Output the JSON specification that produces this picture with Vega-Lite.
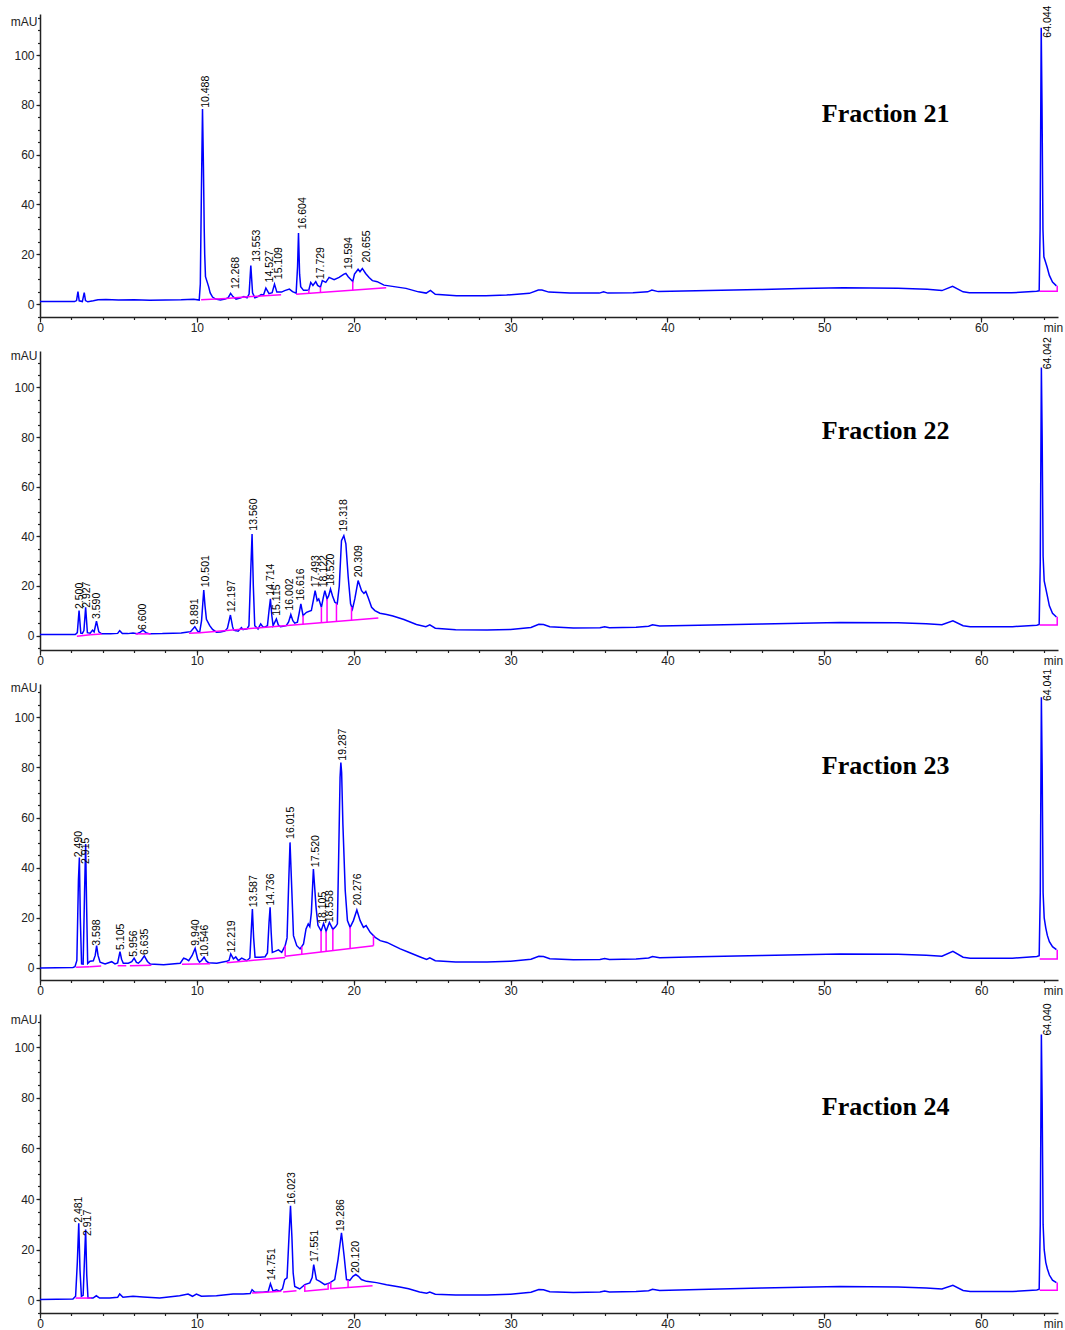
{
"$schema": "https://vega.github.io/schema/vega-lite/v6.json",
"background": "white",
"padding": {"left": 10, "top": 5, "right": 3, "bottom": 3},
"bounds": "flush",
"spacing": 34,
"config": {
  "view": {"stroke": null},
  "axis": {"labelFont": "Liberation Sans", "labelFontSize": 12, "labelColor": "#222", "labelFlush": false,
           "titleFont": "Liberation Sans", "titleFontSize": 12, "titleFontWeight": "normal", "titleColor": "#222",
           "domainColor": "#222", "tickColor": "#222", "domainWidth": 1.5, "tickWidth": 1.2, "grid": false}
},
"datasets": {
"tr": [
{"f":21,"t":0,"y":1.0},{"f":21,"t":2.2,"y":1.0},{"f":21,"t":2.33,"y":1.4},{"f":21,"t":2.42,"y":5.0},{"f":21,"t":2.5,"y":1.3},{"f":21,"t":2.7,"y":1.0},{"f":21,"t":2.82,"y":4.6},{"f":21,"t":2.9,"y":1.4},{"f":21,"t":3.05,"y":0.9},{"f":21,"t":3.4,"y":1.3},{"f":21,"t":3.7,"y":1.7},{"f":21,"t":4.2,"y":1.8},{"f":21,"t":5,"y":1.6},{"f":21,"t":6,"y":1.7},{"f":21,"t":7,"y":1.5},{"f":21,"t":8,"y":1.6},{"f":21,"t":9,"y":1.7},{"f":21,"t":9.8,"y":1.9},{"f":21,"t":10.15,"y":1.6},
{"f":21,"t":10.22,"y":8},{"f":21,"t":10.29,"y":45},{"f":21,"t":10.36,"y":78.3},{"f":21,"t":10.42,"y":55},{"f":21,"t":10.47,"y":30},{"f":21,"t":10.5,"y":20},{"f":21,"t":10.55,"y":11},{"f":21,"t":10.65,"y":9},{"f":21,"t":10.75,"y":7},{"f":21,"t":10.85,"y":4.5},{"f":21,"t":11.0,"y":2.8},{"f":21,"t":11.2,"y":2.0},{"f":21,"t":11.5,"y":1.6},{"f":21,"t":11.8,"y":2.0},{"f":21,"t":12.0,"y":2.6},{"f":21,"t":12.15,"y":4.3},{"f":21,"t":12.3,"y":3.0},{"f":21,"t":12.5,"y":2.0},{"f":21,"t":12.8,"y":2.5},{"f":21,"t":13.0,"y":3.0},{"f":21,"t":13.2,"y":2.5},{"f":21,"t":13.33,"y":4},{"f":21,"t":13.44,"y":15.5},{"f":21,"t":13.55,"y":4.5},{"f":21,"t":13.7,"y":2.5},{"f":21,"t":13.9,"y":3.0},{"f":21,"t":14.1,"y":3.8},{"f":21,"t":14.25,"y":3.6},{"f":21,"t":14.4,"y":6.4},{"f":21,"t":14.6,"y":4.2},{"f":21,"t":14.8,"y":4.6},{"f":21,"t":14.95,"y":8.0},{"f":21,"t":15.1,"y":4.8},{"f":21,"t":15.4,"y":4.8},{"f":21,"t":15.6,"y":5.4},{"f":21,"t":15.9,"y":6.0},{"f":21,"t":16.1,"y":5.0},{"f":21,"t":16.33,"y":4.4},{"f":21,"t":16.42,"y":15},{"f":21,"t":16.48,"y":28.5},{"f":21,"t":16.55,"y":12},{"f":21,"t":16.62,"y":7},{"f":21,"t":16.8,"y":5.5},{"f":21,"t":17.0,"y":5.5},{"f":21,"t":17.14,"y":5.7},{"f":21,"t":17.26,"y":8.7},{"f":21,"t":17.4,"y":7.5},{"f":21,"t":17.58,"y":9.0},{"f":21,"t":17.7,"y":7.5},{"f":21,"t":17.88,"y":6.8},{"f":21,"t":18.0,"y":9.4},{"f":21,"t":18.22,"y":8.7},{"f":21,"t":18.43,"y":10.7},{"f":21,"t":18.75,"y":9.8},{"f":21,"t":19.07,"y":10.7},{"f":21,"t":19.38,"y":12.0},{"f":21,"t":19.5,"y":12.3},{"f":21,"t":19.65,"y":11},{"f":21,"t":19.94,"y":9.1},{"f":21,"t":20.05,"y":12},{"f":21,"t":20.28,"y":14},{"f":21,"t":20.4,"y":13},{"f":21,"t":20.55,"y":14.3},{"f":21,"t":20.76,"y":12.3},{"f":21,"t":20.98,"y":10.7},{"f":21,"t":21.19,"y":9.4},{"f":21,"t":21.5,"y":9.0},{"f":21,"t":21.93,"y":7.6},{"f":21,"t":22.36,"y":7.2},{"f":21,"t":23.0,"y":6.6},{"f":21,"t":23.33,"y":6.3},{"f":21,"t":24.13,"y":4.9},{"f":21,"t":24.62,"y":4.4},{"f":21,"t":24.89,"y":5.5},{"f":21,"t":25.2,"y":3.9},{"f":21,"t":26.55,"y":3.3},{"f":21,"t":28.42,"y":3.3},{"f":21,"t":29.75,"y":3.6},{"f":21,"t":31.2,"y":4.3},{"f":21,"t":31.77,"y":5.6},{"f":21,"t":32.0,"y":5.6},{"f":21,"t":32.44,"y":4.8},{"f":21,"t":33.78,"y":4.4},{"f":21,"t":35.66,"y":4.4},{"f":21,"t":35.93,"y":4.9},{"f":21,"t":36.2,"y":4.4},{"f":21,"t":37.8,"y":4.5},{"f":21,"t":38.74,"y":4.9},{"f":21,"t":39.01,"y":5.6},{"f":21,"t":39.41,"y":5.0},{"f":21,"t":41.83,"y":5.3},{"f":21,"t":45.85,"y":5.8},{"f":21,"t":48.5,"y":6.2},{"f":21,"t":51.2,"y":6.5},{"f":21,"t":54.7,"y":6.3},{"f":21,"t":56.56,"y":5.9},{"f":21,"t":57.5,"y":5.4},{"f":21,"t":58.18,"y":7.1},{"f":21,"t":58.85,"y":4.9},{"f":21,"t":59.25,"y":4.5},{"f":21,"t":61.93,"y":4.5},{"f":21,"t":63.54,"y":5.1},{"f":21,"t":63.7,"y":5.3},{"f":21,"t":63.76,"y":30},{"f":21,"t":63.83,"y":111},{"f":21,"t":63.88,"y":80},{"f":21,"t":63.94,"y":30},{"f":21,"t":64.0,"y":19},{"f":21,"t":64.1,"y":17},{"f":21,"t":64.2,"y":15},{"f":21,"t":64.35,"y":11.5},{"f":21,"t":64.55,"y":8.8},{"f":21,"t":64.8,"y":7.3},

{"f":22,"t":0,"y":0.4},{"f":22,"t":2.25,"y":0.4},{"f":22,"t":2.38,"y":1.2},{"f":22,"t":2.49,"y":10.1},{"f":22,"t":2.6,"y":1.0},{"f":22,"t":2.7,"y":0.9},{"f":22,"t":2.8,"y":2},{"f":22,"t":2.91,"y":11.4},{"f":22,"t":3.02,"y":1.2},{"f":22,"t":3.2,"y":1.0},{"f":22,"t":3.35,"y":2.2},{"f":22,"t":3.45,"y":1.5},{"f":22,"t":3.6,"y":5.8},{"f":22,"t":3.75,"y":1.5},{"f":22,"t":3.93,"y":0.7},{"f":22,"t":4.5,"y":0.7},{"f":22,"t":4.95,"y":0.9},{"f":22,"t":5.08,"y":2.0},{"f":22,"t":5.25,"y":0.8},{"f":22,"t":5.6,"y":0.8},{"f":22,"t":5.93,"y":1.0},{"f":22,"t":6.2,"y":0.8},{"f":22,"t":6.4,"y":1.4},{"f":22,"t":6.57,"y":2.2},{"f":22,"t":6.75,"y":1.2},{"f":22,"t":6.99,"y":0.7},{"f":22,"t":7.8,"y":0.8},{"f":22,"t":8.48,"y":1.0},{"f":22,"t":9.0,"y":1.1},{"f":22,"t":9.33,"y":1.4},{"f":22,"t":9.6,"y":1.6},{"f":22,"t":9.87,"y":3.6},{"f":22,"t":10.05,"y":1.8},{"f":22,"t":10.18,"y":1.4},{"f":22,"t":10.3,"y":6},{"f":22,"t":10.44,"y":18.4},{"f":22,"t":10.52,"y":12},{"f":22,"t":10.61,"y":6.6},{"f":22,"t":10.82,"y":4},{"f":22,"t":11.0,"y":2.5},{"f":22,"t":11.25,"y":1.4},{"f":22,"t":11.5,"y":1.5},{"f":22,"t":11.78,"y":1.8},{"f":22,"t":11.95,"y":3},{"f":22,"t":12.14,"y":8.3},{"f":22,"t":12.28,"y":3.5},{"f":22,"t":12.35,"y":2.2},{"f":22,"t":12.5,"y":2.0},{"f":22,"t":12.63,"y":1.8},{"f":22,"t":12.84,"y":3.2},{"f":22,"t":12.95,"y":2.4},{"f":22,"t":13.05,"y":2.6},{"f":22,"t":13.2,"y":2.7},{"f":22,"t":13.32,"y":4},{"f":22,"t":13.43,"y":25},{"f":22,"t":13.52,"y":40.9},{"f":22,"t":13.6,"y":20},{"f":22,"t":13.69,"y":4.0},{"f":22,"t":13.9,"y":2.7},{"f":22,"t":14.07,"y":4.7},{"f":22,"t":14.2,"y":3.6},{"f":22,"t":14.33,"y":3.4},{"f":22,"t":14.5,"y":4},{"f":22,"t":14.6,"y":10},{"f":22,"t":14.69,"y":14.8},{"f":22,"t":14.78,"y":8},{"f":22,"t":14.86,"y":4.0},{"f":22,"t":15.07,"y":6.7},{"f":22,"t":15.2,"y":4.2},{"f":22,"t":15.33,"y":3.6},{"f":22,"t":15.5,"y":3.8},{"f":22,"t":15.7,"y":4.0},{"f":22,"t":15.85,"y":5.5},{"f":22,"t":15.99,"y":8.5},{"f":22,"t":16.12,"y":6},{"f":22,"t":16.24,"y":5.0},{"f":22,"t":16.41,"y":5.4},{"f":22,"t":16.52,"y":9},{"f":22,"t":16.63,"y":12.8},{"f":22,"t":16.77,"y":8.1},{"f":22,"t":16.99,"y":9.4},{"f":22,"t":17.3,"y":10.1},{"f":22,"t":17.42,"y":14},{"f":22,"t":17.54,"y":18.1},{"f":22,"t":17.67,"y":14.1},{"f":22,"t":17.77,"y":14.8},{"f":22,"t":17.94,"y":11.4},{"f":22,"t":18.05,"y":15},{"f":22,"t":18.16,"y":18.1},{"f":22,"t":18.3,"y":14.8},{"f":22,"t":18.4,"y":16},{"f":22,"t":18.52,"y":18.8},{"f":22,"t":18.65,"y":16},{"f":22,"t":18.8,"y":13.4},{"f":22,"t":18.95,"y":12.8},{"f":22,"t":19.08,"y":20},{"f":22,"t":19.22,"y":38.3},{"f":22,"t":19.37,"y":40.3},{"f":22,"t":19.5,"y":37},{"f":22,"t":19.65,"y":23.5},{"f":22,"t":19.8,"y":12.8},{"f":22,"t":19.92,"y":10.7},{"f":22,"t":20.07,"y":14.8},{"f":22,"t":20.28,"y":22.2},{"f":22,"t":20.5,"y":18.1},{"f":22,"t":20.65,"y":17.0},{"f":22,"t":20.77,"y":17.8},{"f":22,"t":20.92,"y":15.4},{"f":22,"t":21.14,"y":11.4},{"f":22,"t":21.35,"y":10.1},{"f":22,"t":21.67,"y":9.0},{"f":22,"t":22.1,"y":8.5},{"f":22,"t":22.5,"y":7.9},{"f":22,"t":23.2,"y":6.5},{"f":22,"t":24.0,"y":4.5},{"f":22,"t":24.6,"y":3.6},{"f":22,"t":24.85,"y":4.3},{"f":22,"t":25.2,"y":3.0},{"f":22,"t":26.5,"y":2.4},{"f":22,"t":28.5,"y":2.3},{"f":22,"t":30,"y":2.5},{"f":22,"t":31.3,"y":3.3},{"f":22,"t":31.8,"y":4.6},{"f":22,"t":32.1,"y":4.5},{"f":22,"t":32.5,"y":3.6},{"f":22,"t":34,"y":3.1},{"f":22,"t":35.7,"y":3.2},{"f":22,"t":36.0,"y":3.6},{"f":22,"t":36.3,"y":3.2},{"f":22,"t":38,"y":3.4},{"f":22,"t":38.8,"y":3.8},{"f":22,"t":39.05,"y":4.4},{"f":22,"t":39.5,"y":3.9},{"f":22,"t":42,"y":4.2},{"f":22,"t":46,"y":4.7},{"f":22,"t":48.5,"y":5.0},{"f":22,"t":51,"y":5.3},{"f":22,"t":54.7,"y":5.2},{"f":22,"t":56.5,"y":4.8},{"f":22,"t":57.5,"y":4.4},{"f":22,"t":58.2,"y":6.0},{"f":22,"t":58.85,"y":4.0},{"f":22,"t":59.3,"y":3.6},{"f":22,"t":62,"y":3.6},{"f":22,"t":63.55,"y":4.2},{"f":22,"t":63.7,"y":4.5},{"f":22,"t":63.77,"y":30},{"f":22,"t":63.84,"y":108},{"f":22,"t":63.89,"y":80},{"f":22,"t":63.95,"y":32},{"f":22,"t":64.02,"y":22},{"f":22,"t":64.12,"y":19},{"f":22,"t":64.22,"y":16},{"f":22,"t":64.35,"y":12},{"f":22,"t":64.55,"y":9},{"f":22,"t":64.8,"y":7.5},

{"f":23,"t":0,"y":0},{"f":23,"t":2.1,"y":0.2},{"f":23,"t":2.23,"y":0.5},{"f":23,"t":2.35,"y":3},{"f":23,"t":2.45,"y":35},{"f":23,"t":2.51,"y":44.1},{"f":23,"t":2.57,"y":20},{"f":23,"t":2.65,"y":1.6},{"f":23,"t":2.75,"y":1.5},{"f":23,"t":2.84,"y":30},{"f":23,"t":2.91,"y":49.5},{"f":23,"t":2.97,"y":25},{"f":23,"t":3.04,"y":1.8},{"f":23,"t":3.19,"y":2.7},{"f":23,"t":3.4,"y":2.9},{"f":23,"t":3.52,"y":5},{"f":23,"t":3.61,"y":8.9},{"f":23,"t":3.7,"y":5},{"f":23,"t":3.83,"y":2.3},{"f":23,"t":4.15,"y":1.6},{"f":23,"t":4.57,"y":2.5},{"f":23,"t":4.78,"y":1.6},{"f":23,"t":4.95,"y":2},{"f":23,"t":5.1,"y":6.5},{"f":23,"t":5.2,"y":3.5},{"f":23,"t":5.31,"y":1.9},{"f":23,"t":5.63,"y":1.9},{"f":23,"t":5.85,"y":2.5},{"f":23,"t":6.0,"y":3.9},{"f":23,"t":6.15,"y":2.2},{"f":23,"t":6.27,"y":1.9},{"f":23,"t":6.45,"y":3},{"f":23,"t":6.65,"y":4.8},{"f":23,"t":6.85,"y":2.6},{"f":23,"t":7.03,"y":1.6},{"f":23,"t":7.88,"y":1.3},{"f":23,"t":8.94,"y":1.9},{"f":23,"t":9.16,"y":3.9},{"f":23,"t":9.3,"y":3.6},{"f":23,"t":9.48,"y":2.9},{"f":23,"t":9.7,"y":5},{"f":23,"t":9.89,"y":7.8},{"f":23,"t":10.05,"y":3.5},{"f":23,"t":10.17,"y":2.3},{"f":23,"t":10.3,"y":3},{"f":23,"t":10.46,"y":4.3},{"f":23,"t":10.6,"y":2.8},{"f":23,"t":10.74,"y":2.1},{"f":23,"t":11.27,"y":1.9},{"f":23,"t":11.9,"y":2.7},{"f":23,"t":12.05,"y":3},{"f":23,"t":12.16,"y":5.6},{"f":23,"t":12.33,"y":3.6},{"f":23,"t":12.48,"y":4.4},{"f":23,"t":12.65,"y":2.9},{"f":23,"t":12.86,"y":3.9},{"f":23,"t":13.18,"y":2.9},{"f":23,"t":13.38,"y":4},{"f":23,"t":13.47,"y":15},{"f":23,"t":13.54,"y":23.5},{"f":23,"t":13.62,"y":12},{"f":23,"t":13.71,"y":4.3},{"f":23,"t":14.03,"y":4.3},{"f":23,"t":14.35,"y":4.5},{"f":23,"t":14.5,"y":6},{"f":23,"t":14.6,"y":18},{"f":23,"t":14.67,"y":24.2},{"f":23,"t":14.74,"y":14},{"f":23,"t":14.81,"y":6.2},{"f":23,"t":14.98,"y":6.6},{"f":23,"t":15.2,"y":7.2},{"f":23,"t":15.41,"y":6.2},{"f":23,"t":15.63,"y":8.9},{"f":23,"t":15.75,"y":12},{"f":23,"t":15.86,"y":35},{"f":23,"t":15.94,"y":50.1},{"f":23,"t":16.03,"y":35},{"f":23,"t":16.16,"y":12.9},{"f":23,"t":16.37,"y":8.9},{"f":23,"t":16.58,"y":7.6},{"f":23,"t":16.8,"y":9.6},{"f":23,"t":16.96,"y":15.6},{"f":23,"t":17.1,"y":17.6},{"f":23,"t":17.2,"y":16.5},{"f":23,"t":17.3,"y":22},{"f":23,"t":17.43,"y":39.5},{"f":23,"t":17.6,"y":24.2},{"f":23,"t":17.72,"y":17},{"f":23,"t":17.92,"y":14.8},{"f":23,"t":18.08,"y":17.8},{"f":23,"t":18.24,"y":14.6},{"f":23,"t":18.45,"y":18.2},{"f":23,"t":18.67,"y":15.4},{"f":23,"t":18.85,"y":16.5},{"f":23,"t":18.96,"y":17.6},{"f":23,"t":19.04,"y":44.2},{"f":23,"t":19.13,"y":76},{"f":23,"t":19.18,"y":82.0},{"f":23,"t":19.23,"y":78},{"f":23,"t":19.31,"y":57.4},{"f":23,"t":19.46,"y":30.8},{"f":23,"t":19.6,"y":18.9},{"f":23,"t":19.77,"y":16.2},{"f":23,"t":19.98,"y":18.9},{"f":23,"t":20.2,"y":23.1},{"f":23,"t":20.41,"y":18.9},{"f":23,"t":20.62,"y":16.2},{"f":23,"t":20.79,"y":16.9},{"f":23,"t":21.05,"y":14.2},{"f":23,"t":21.37,"y":12.2},{"f":23,"t":21.69,"y":10.9},{"f":23,"t":22.12,"y":10.2},{"f":23,"t":22.54,"y":8.9},{"f":23,"t":22.97,"y":7.6},{"f":23,"t":23.5,"y":6.3},{"f":23,"t":24.2,"y":4.5},{"f":23,"t":24.65,"y":3.4},{"f":23,"t":24.85,"y":4.0},{"f":23,"t":25.2,"y":2.9},{"f":23,"t":26.5,"y":2.4},{"f":23,"t":28.5,"y":2.4},{"f":23,"t":30,"y":2.7},{"f":23,"t":31.3,"y":3.5},{"f":23,"t":31.8,"y":4.7},{"f":23,"t":32.1,"y":4.6},{"f":23,"t":32.5,"y":3.7},{"f":23,"t":34,"y":3.3},{"f":23,"t":35.7,"y":3.4},{"f":23,"t":36.0,"y":3.8},{"f":23,"t":36.3,"y":3.4},{"f":23,"t":38,"y":3.6},{"f":23,"t":38.8,"y":4.0},{"f":23,"t":39.05,"y":4.6},{"f":23,"t":39.5,"y":4.1},{"f":23,"t":42,"y":4.5},{"f":23,"t":46,"y":5.0},{"f":23,"t":48.5,"y":5.3},{"f":23,"t":51,"y":5.6},{"f":23,"t":54.7,"y":5.5},{"f":23,"t":56.5,"y":5.1},{"f":23,"t":57.5,"y":4.7},{"f":23,"t":58.2,"y":6.6},{"f":23,"t":58.85,"y":4.3},{"f":23,"t":59.3,"y":3.9},{"f":23,"t":62,"y":3.9},{"f":23,"t":63.55,"y":4.6},{"f":23,"t":63.7,"y":4.9},{"f":23,"t":63.77,"y":30},{"f":23,"t":63.84,"y":108},{"f":23,"t":63.89,"y":80},{"f":23,"t":63.95,"y":30},{"f":23,"t":64.02,"y":20},{"f":23,"t":64.12,"y":16},{"f":23,"t":64.22,"y":13},{"f":23,"t":64.35,"y":10.5},{"f":23,"t":64.55,"y":8.5},{"f":23,"t":64.8,"y":7.3},

{"f":24,"t":0,"y":0.3},{"f":24,"t":2.1,"y":0.5},{"f":24,"t":2.27,"y":1.6},{"f":24,"t":2.38,"y":15},{"f":24,"t":2.47,"y":30.4},{"f":24,"t":2.55,"y":12},{"f":24,"t":2.64,"y":1.6},{"f":24,"t":2.75,"y":2},{"f":24,"t":2.83,"y":15},{"f":24,"t":2.91,"y":28},{"f":24,"t":2.98,"y":10},{"f":24,"t":3.06,"y":0.9},{"f":24,"t":3.38,"y":0.9},{"f":24,"t":3.59,"y":1.8},{"f":24,"t":3.8,"y":0.9},{"f":24,"t":4.44,"y":0.9},{"f":24,"t":4.95,"y":1.2},{"f":24,"t":5.08,"y":2.5},{"f":24,"t":5.29,"y":1.2},{"f":24,"t":5.93,"y":1.6},{"f":24,"t":6.57,"y":1.3},{"f":24,"t":7.63,"y":0.9},{"f":24,"t":8.9,"y":1.8},{"f":24,"t":9.44,"y":2.5},{"f":24,"t":9.72,"y":1.6},{"f":24,"t":9.97,"y":2.5},{"f":24,"t":10.29,"y":1.6},{"f":24,"t":11.25,"y":1.8},{"f":24,"t":12.31,"y":2.5},{"f":24,"t":12.95,"y":2.5},{"f":24,"t":13.4,"y":2.7},{"f":24,"t":13.52,"y":4.2},{"f":24,"t":13.69,"y":3.2},{"f":24,"t":14.22,"y":3.2},{"f":24,"t":14.55,"y":3.5},{"f":24,"t":14.69,"y":6.6},{"f":24,"t":14.86,"y":3.6},{"f":24,"t":15.07,"y":4.2},{"f":24,"t":15.28,"y":3.6},{"f":24,"t":15.46,"y":4.5},{"f":24,"t":15.6,"y":8.2},{"f":24,"t":15.75,"y":8.9},{"f":24,"t":15.85,"y":22},{"f":24,"t":15.97,"y":37.3},{"f":24,"t":16.06,"y":25},{"f":24,"t":16.14,"y":10.8},{"f":24,"t":16.24,"y":5.5},{"f":24,"t":16.56,"y":4.5},{"f":24,"t":16.88,"y":6.2},{"f":24,"t":17.2,"y":6.9},{"f":24,"t":17.35,"y":9},{"f":24,"t":17.45,"y":14.1},{"f":24,"t":17.62,"y":8.2},{"f":24,"t":17.84,"y":7.5},{"f":24,"t":18.15,"y":6.2},{"f":24,"t":18.47,"y":6.9},{"f":24,"t":18.79,"y":8.2},{"f":24,"t":19.0,"y":16.1},{"f":24,"t":19.22,"y":26.7},{"f":24,"t":19.39,"y":17.4},{"f":24,"t":19.54,"y":8.2},{"f":24,"t":19.75,"y":7.9},{"f":24,"t":19.95,"y":9.5},{"f":24,"t":20.13,"y":10.2},{"f":24,"t":20.3,"y":9.5},{"f":24,"t":20.49,"y":8.2},{"f":24,"t":20.81,"y":7.5},{"f":24,"t":21.45,"y":7.0},{"f":24,"t":22.09,"y":6.2},{"f":24,"t":22.94,"y":5.3},{"f":24,"t":23.5,"y":4.6},{"f":24,"t":24.2,"y":3.3},{"f":24,"t":24.65,"y":2.8},{"f":24,"t":24.85,"y":3.3},{"f":24,"t":25.2,"y":2.4},{"f":24,"t":26.5,"y":2.1},{"f":24,"t":28.5,"y":2.1},{"f":24,"t":30,"y":2.4},{"f":24,"t":31.3,"y":3.2},{"f":24,"t":31.8,"y":4.3},{"f":24,"t":32.1,"y":4.2},{"f":24,"t":32.5,"y":3.4},{"f":24,"t":34,"y":3.1},{"f":24,"t":35.7,"y":3.3},{"f":24,"t":36.0,"y":3.7},{"f":24,"t":36.3,"y":3.3},{"f":24,"t":38,"y":3.5},{"f":24,"t":38.8,"y":3.8},{"f":24,"t":39.05,"y":4.4},{"f":24,"t":39.5,"y":3.9},{"f":24,"t":42,"y":4.3},{"f":24,"t":46,"y":4.9},{"f":24,"t":48.5,"y":5.2},{"f":24,"t":51,"y":5.5},{"f":24,"t":54.7,"y":5.3},{"f":24,"t":56.5,"y":4.9},{"f":24,"t":57.5,"y":4.5},{"f":24,"t":58.2,"y":5.9},{"f":24,"t":58.85,"y":3.9},{"f":24,"t":59.3,"y":3.5},{"f":24,"t":62,"y":3.5},{"f":24,"t":63.55,"y":4.1},{"f":24,"t":63.7,"y":4.4},{"f":24,"t":63.77,"y":30},{"f":24,"t":63.84,"y":105},{"f":24,"t":63.89,"y":78},{"f":24,"t":63.95,"y":30},{"f":24,"t":64.02,"y":20},{"f":24,"t":64.12,"y":15},{"f":24,"t":64.22,"y":12.5},{"f":24,"t":64.35,"y":10},{"f":24,"t":64.55,"y":8},{"f":24,"t":64.8,"y":7}
],
"bs": [
{"f":21,"g":1,"o":1,"t":10.27,"y":1.7},{"f":21,"g":1,"o":2,"t":11.86,"y":2.25},
{"f":21,"g":2,"o":1,"t":11.86,"y":2.25},{"f":21,"g":2,"o":2,"t":13.25,"y":2.9},
{"f":21,"g":3,"o":1,"t":13.25,"y":2.9},{"f":21,"g":3,"o":2,"t":14.09,"y":3.2},
{"f":21,"g":4,"o":1,"t":14.09,"y":3.2},{"f":21,"g":4,"o":2,"t":15.37,"y":3.7},
{"f":21,"g":5,"o":1,"t":16.33,"y":3.9},{"f":21,"g":5,"o":2,"t":22.07,"y":6.5},
{"f":21,"g":6,"o":1,"t":17.14,"y":4.27},{"f":21,"g":6,"o":2,"t":17.14,"y":5.7},
{"f":21,"g":7,"o":1,"t":17.88,"y":4.6},{"f":21,"g":7,"o":2,"t":17.88,"y":6.8},
{"f":21,"g":8,"o":1,"t":19.94,"y":5.54},{"f":21,"g":8,"o":2,"t":19.94,"y":9.1},
{"f":21,"g":9,"o":1,"t":63.73,"y":5.1},{"f":21,"g":9,"o":2,"t":64.85,"y":5.1},{"f":21,"g":9,"o":3,"t":64.85,"y":7.4},

{"f":22,"g":1,"o":1,"t":2.35,"y":-0.3},{"f":22,"g":1,"o":2,"t":3.2,"y":0.3},
{"f":22,"g":2,"o":1,"t":3.2,"y":0.3},{"f":22,"g":2,"o":2,"t":3.93,"y":0.6},
{"f":22,"g":3,"o":1,"t":6.1,"y":0.7},{"f":22,"g":3,"o":2,"t":7.06,"y":0.7},
{"f":22,"g":4,"o":1,"t":9.5,"y":1.0},{"f":22,"g":4,"o":2,"t":10.2,"y":1.2},
{"f":22,"g":5,"o":1,"t":10.2,"y":1.2},{"f":22,"g":5,"o":2,"t":21.57,"y":7.1},
{"f":22,"g":6,"o":1,"t":16.77,"y":4.61},{"f":22,"g":6,"o":2,"t":16.77,"y":8.1},
{"f":22,"g":7,"o":1,"t":17.94,"y":5.22},{"f":22,"g":7,"o":2,"t":17.94,"y":11.4},
{"f":22,"g":8,"o":1,"t":18.3,"y":5.4},{"f":22,"g":8,"o":2,"t":18.3,"y":14.8},
{"f":22,"g":9,"o":1,"t":18.9,"y":5.72},{"f":22,"g":9,"o":2,"t":18.9,"y":13.0},
{"f":22,"g":10,"o":1,"t":19.86,"y":6.21},{"f":22,"g":10,"o":2,"t":19.86,"y":11.6},
{"f":22,"g":11,"o":1,"t":63.73,"y":4.3},{"f":22,"g":11,"o":2,"t":64.85,"y":4.3},{"f":22,"g":11,"o":3,"t":64.85,"y":7.6},

{"f":23,"g":1,"o":1,"t":2.3,"y":0.3},{"f":23,"g":1,"o":2,"t":3.17,"y":0.5},
{"f":23,"g":2,"o":1,"t":3.17,"y":0.5},{"f":23,"g":2,"o":2,"t":3.9,"y":0.8},
{"f":23,"g":3,"o":1,"t":4.95,"y":0.9},{"f":23,"g":3,"o":2,"t":5.5,"y":0.9},
{"f":23,"g":4,"o":1,"t":5.73,"y":0.9},{"f":23,"g":4,"o":2,"t":7.1,"y":1.1},
{"f":23,"g":5,"o":1,"t":9.05,"y":1.5},{"f":23,"g":5,"o":2,"t":10.85,"y":1.7},
{"f":23,"g":6,"o":1,"t":11.9,"y":2.1},{"f":23,"g":6,"o":2,"t":13.3,"y":2.9},
{"f":23,"g":7,"o":1,"t":13.3,"y":2.9},{"f":23,"g":7,"o":2,"t":15.63,"y":4.2},
{"f":23,"g":8,"o":1,"t":15.63,"y":4.7},{"f":23,"g":8,"o":2,"t":15.63,"y":8.9},
{"f":23,"g":9,"o":1,"t":15.63,"y":4.7},{"f":23,"g":9,"o":2,"t":21.26,"y":8.9},
{"f":23,"g":10,"o":1,"t":16.69,"y":5.49},{"f":23,"g":10,"o":2,"t":16.69,"y":8.6},
{"f":23,"g":11,"o":1,"t":17.92,"y":6.41},{"f":23,"g":11,"o":2,"t":17.92,"y":14.8},
{"f":23,"g":12,"o":1,"t":18.24,"y":6.65},{"f":23,"g":12,"o":2,"t":18.24,"y":14.6},
{"f":23,"g":13,"o":1,"t":18.67,"y":6.97},{"f":23,"g":13,"o":2,"t":18.67,"y":15.4},
{"f":23,"g":14,"o":1,"t":19.77,"y":7.79},{"f":23,"g":14,"o":2,"t":19.77,"y":16.2},
{"f":23,"g":15,"o":1,"t":21.26,"y":8.9},{"f":23,"g":15,"o":2,"t":21.26,"y":12.9},
{"f":23,"g":16,"o":1,"t":63.73,"y":3.6},{"f":23,"g":16,"o":2,"t":64.85,"y":3.6},{"f":23,"g":16,"o":3,"t":64.85,"y":7.3},

{"f":24,"g":1,"o":1,"t":2.27,"y":0.9},{"f":24,"g":1,"o":2,"t":3.27,"y":0.9},
{"f":24,"g":2,"o":1,"t":13.52,"y":2.9},{"f":24,"g":2,"o":2,"t":15.39,"y":3.6},
{"f":24,"g":3,"o":1,"t":15.5,"y":3.3},{"f":24,"g":3,"o":2,"t":16.35,"y":3.8},
{"f":24,"g":4,"o":1,"t":16.88,"y":6.2},{"f":24,"g":4,"o":2,"t":16.88,"y":3.6},{"f":24,"g":4,"o":3,"t":18.37,"y":4.5},{"f":24,"g":4,"o":4,"t":18.37,"y":6.7},
{"f":24,"g":5,"o":1,"t":18.54,"y":7.1},{"f":24,"g":5,"o":2,"t":18.54,"y":4.6},{"f":24,"g":5,"o":3,"t":21.2,"y":5.8},
{"f":24,"g":6,"o":1,"t":19.64,"y":5.1},{"f":24,"g":6,"o":2,"t":19.64,"y":8.1},
{"f":24,"g":7,"o":1,"t":63.73,"y":4.0},{"f":24,"g":7,"o":2,"t":64.85,"y":4.0},{"f":24,"g":7,"o":3,"t":64.85,"y":7.0}
],
"lb": [
{"f":21,"s":"10.488","t":10.27,"y":78.8},{"f":21,"s":"12.268","t":12.17,"y":6},{"f":21,"s":"13.553","t":13.51,"y":17},{"f":21,"s":"14.527","t":14.33,"y":8.7},{"f":21,"s":"15.109","t":14.89,"y":10},{"f":21,"s":"16.604","t":16.47,"y":30},{"f":21,"s":"17.729","t":17.57,"y":10},{"f":21,"s":"19.594","t":19.36,"y":14},{"f":21,"s":"20.655","t":20.51,"y":16.7},{"f":21,"s":"64.044","t":63.97,"y":107},
{"f":22,"s":"2.500","t":2.21,"y":10.7},{"f":22,"s":"2.927","t":2.66,"y":11.2},{"f":22,"s":"3.590","t":3.33,"y":6.7},{"f":22,"s":"6.600","t":6.25,"y":2.3},{"f":22,"s":"9.891","t":9.57,"y":4.4},{"f":22,"s":"10.501","t":10.26,"y":19.5},{"f":22,"s":"12.197","t":11.91,"y":9.4},{"f":22,"s":"13.560","t":13.32,"y":42.3},{"f":22,"s":"14.714","t":14.41,"y":16.1},{"f":22,"s":"15.115","t":14.8,"y":8},{"f":22,"s":"16.002","t":15.65,"y":10.1},{"f":22,"s":"16.616","t":16.31,"y":14.1},{"f":22,"s":"17.493","t":17.27,"y":19.5},{"f":22,"s":"18.122","t":17.77,"y":19.5},{"f":22,"s":"18.520","t":18.23,"y":20.1},{"f":22,"s":"19.318","t":19.08,"y":42},{"f":22,"s":"20.309","t":19.99,"y":23.5},{"f":22,"s":"64.042","t":63.93,"y":107.3},
{"f":23,"s":"2.490","t":2.16,"y":44.2},{"f":23,"s":"2.915","t":2.6,"y":41.5},{"f":23,"s":"3.598","t":3.32,"y":8.9},{"f":23,"s":"5.105","t":4.82,"y":7.2},{"f":23,"s":"5.956","t":5.66,"y":4.5},{"f":23,"s":"6.635","t":6.36,"y":5.2},{"f":23,"s":"9.940","t":9.62,"y":8.9},{"f":23,"s":"10.546","t":10.22,"y":4.5},{"f":23,"s":"12.219","t":11.89,"y":6.2},{"f":23,"s":"13.587","t":13.31,"y":24.2},{"f":23,"s":"14.736","t":14.38,"y":24.9},{"f":23,"s":"16.015","t":15.7,"y":51.5},{"f":23,"s":"17.520","t":17.25,"y":40.2},{"f":23,"s":"18.105","t":17.71,"y":17.6},{"f":23,"s":"18.558","t":18.16,"y":18.2},{"f":23,"s":"19.287","t":18.97,"y":82.7},{"f":23,"s":"20.276","t":19.93,"y":24.9},{"f":23,"s":"64.041","t":63.93,"y":106.5},
{"f":24,"s":"2.481","t":2.18,"y":30.6},{"f":24,"s":"2.917","t":2.71,"y":25.4},{"f":24,"s":"14.751","t":14.46,"y":7.9},{"f":24,"s":"16.023","t":15.75,"y":37.9},{"f":24,"s":"17.551","t":17.24,"y":15.1},{"f":24,"s":"19.286","t":18.9,"y":27.3},{"f":24,"s":"20.120","t":19.85,"y":10.8},{"f":24,"s":"64.040","t":63.93,"y":104.6}
],
"tt": [
{"f":21,"s":"Fraction 21","t":49.84,"y":73.2},{"f":22,"s":"Fraction 22","t":49.84,"y":79.2},{"f":23,"s":"Fraction 23","t":49.84,"y":77.4},{"f":24,"s":"Fraction 24","t":49.84,"y":73.3}
]
},
"vconcat": [
{"width":1018,"height":303,"resolve":{"axis":{"x":"independent","y":"independent"}},"layer":[
 {"data":{"name":"tr"},"transform":[{"filter":"datum.f==21"}],"mark":{"type":"line","color":"#0000ff","strokeWidth":1.5,"clip":true},
  "encoding":{"x":{"field":"t","type":"quantitative","scale":{"domain":[0,64.9],"nice":false,"zero":false},"axis":{"values":[0,10,20,30,40,50,60],"title":"min","titleX":1013,"titleY":14.5,"titleAlign":"center","titleBaseline":"alphabetic","tickSize":5,"labelPadding":0,"orient":"bottom"}},
   "y":{"field":"y","type":"quantitative","scale":{"domain":[-5.2,116.5],"nice":false,"zero":false},"axis":{"values":[0,20,40,60,80,100],"title":"mAU","titleAngle":0,"titleX":-3,"titleY":11,"titleAlign":"right","titleBaseline":"alphabetic","tickSize":4,"labelPadding":2,"orient":"left"}}}},
 {"data":{"name":"bs"},"transform":[{"filter":"datum.f==21"}],"mark":{"type":"line","color":"#ff00ff","strokeWidth":1.5},
  "encoding":{"x":{"field":"t","type":"quantitative","axis":{"values":[0,2,4,6,8,10,12,14,16,18,20,22,24,26,28,30,32,34,36,38,40,42,44,46,48,50,52,54,56,58,60,62,64],"labels":false,"domain":false,"tickSize":2.5,"title":null,"orient":"bottom"}},
   "y":{"field":"y","type":"quantitative","axis":{"values":[-5,0,5,10,15,20,25,30,35,40,45,50,55,60,65,70,75,80,85,90,95,100,105,110,115],"labels":false,"domain":false,"tickSize":2.5,"title":null,"orient":"left"}},
   "detail":{"field":"g","type":"nominal"},"order":{"field":"o","type":"quantitative"}}},
 {"data":{"name":"lb"},"transform":[{"filter":"datum.f==21"}],"mark":{"type":"text","angle":270,"align":"left","baseline":"middle","dy":5,"font":"Liberation Sans","fontSize":10.5,"color":"#000"},
  "encoding":{"x":{"field":"t","type":"quantitative","axis":null},"y":{"field":"y","type":"quantitative","axis":null},"text":{"field":"s","type":"nominal"}}},
 {"data":{"name":"tt"},"transform":[{"filter":"datum.f==21"}],"mark":{"type":"text","align":"left","baseline":"alphabetic","font":"Liberation Serif","fontWeight":"bold","fontSize":26,"color":"#000"},
  "encoding":{"x":{"field":"t","type":"quantitative","axis":null},"y":{"field":"y","type":"quantitative","axis":null},"text":{"field":"s","type":"nominal"}}}
]},
{"width":1018,"height":299,"resolve":{"axis":{"x":"independent","y":"independent"}},"layer":[
 {"data":{"name":"tr"},"transform":[{"filter":"datum.f==22"}],"mark":{"type":"line","color":"#0000ff","strokeWidth":1.5,"clip":true},
  "encoding":{"x":{"field":"t","type":"quantitative","scale":{"domain":[0,64.9],"nice":false,"zero":false},"axis":{"values":[0,10,20,30,40,50,60],"title":"min","titleX":1013,"titleY":14.5,"titleAlign":"center","titleBaseline":"alphabetic","tickSize":5,"labelPadding":0,"orient":"bottom"}},
   "y":{"field":"y","type":"quantitative","scale":{"domain":[-5.8,114.7],"nice":false,"zero":false},"axis":{"values":[0,20,40,60,80,100],"title":"mAU","titleAngle":0,"titleX":-3,"titleY":8.5,"titleAlign":"right","titleBaseline":"alphabetic","tickSize":4,"labelPadding":2,"orient":"left"}}}},
 {"data":{"name":"bs"},"transform":[{"filter":"datum.f==22"}],"mark":{"type":"line","color":"#ff00ff","strokeWidth":1.5},
  "encoding":{"x":{"field":"t","type":"quantitative","axis":{"values":[0,2,4,6,8,10,12,14,16,18,20,22,24,26,28,30,32,34,36,38,40,42,44,46,48,50,52,54,56,58,60,62,64],"labels":false,"domain":false,"tickSize":2.5,"title":null,"orient":"bottom"}},
   "y":{"field":"y","type":"quantitative","axis":{"values":[-5,0,5,10,15,20,25,30,35,40,45,50,55,60,65,70,75,80,85,90,95,100,105,110],"labels":false,"domain":false,"tickSize":2.5,"title":null,"orient":"left"}},
   "detail":{"field":"g","type":"nominal"},"order":{"field":"o","type":"quantitative"}}},
 {"data":{"name":"lb"},"transform":[{"filter":"datum.f==22"}],"mark":{"type":"text","angle":270,"align":"left","baseline":"middle","dy":5,"font":"Liberation Sans","fontSize":10.5,"color":"#000"},
  "encoding":{"x":{"field":"t","type":"quantitative","axis":null},"y":{"field":"y","type":"quantitative","axis":null},"text":{"field":"s","type":"nominal"}}},
 {"data":{"name":"tt"},"transform":[{"filter":"datum.f==22"}],"mark":{"type":"text","align":"left","baseline":"alphabetic","font":"Liberation Serif","fontWeight":"bold","fontSize":26,"color":"#000"},
  "encoding":{"x":{"field":"t","type":"quantitative","axis":null},"y":{"field":"y","type":"quantitative","axis":null},"text":{"field":"s","type":"nominal"}}}
]},
{"width":1018,"height":296,"resolve":{"axis":{"x":"independent","y":"independent"}},"layer":[
 {"data":{"name":"tr"},"transform":[{"filter":"datum.f==23"}],"mark":{"type":"line","color":"#0000ff","strokeWidth":1.5,"clip":true},
  "encoding":{"x":{"field":"t","type":"quantitative","scale":{"domain":[0,64.9],"nice":false,"zero":false},"axis":{"values":[0,10,20,30,40,50,60],"title":"min","titleX":1013,"titleY":14.5,"titleAlign":"center","titleBaseline":"alphabetic","tickSize":5,"labelPadding":0,"orient":"bottom"}},
   "y":{"field":"y","type":"quantitative","scale":{"domain":[-4.8,113.3],"nice":false,"zero":false},"axis":{"values":[0,20,40,60,80,100],"title":"mAU","titleAngle":0,"titleX":-3,"titleY":7.5,"titleAlign":"right","titleBaseline":"alphabetic","tickSize":4,"labelPadding":2,"orient":"left"}}}},
 {"data":{"name":"bs"},"transform":[{"filter":"datum.f==23"}],"mark":{"type":"line","color":"#ff00ff","strokeWidth":1.5},
  "encoding":{"x":{"field":"t","type":"quantitative","axis":{"values":[0,2,4,6,8,10,12,14,16,18,20,22,24,26,28,30,32,34,36,38,40,42,44,46,48,50,52,54,56,58,60,62,64],"labels":false,"domain":false,"tickSize":2.5,"title":null,"orient":"bottom"}},
   "y":{"field":"y","type":"quantitative","axis":{"values":[0,5,10,15,20,25,30,35,40,45,50,55,60,65,70,75,80,85,90,95,100,105,110],"labels":false,"domain":false,"tickSize":2.5,"title":null,"orient":"left"}},
   "detail":{"field":"g","type":"nominal"},"order":{"field":"o","type":"quantitative"}}},
 {"data":{"name":"lb"},"transform":[{"filter":"datum.f==23"}],"mark":{"type":"text","angle":270,"align":"left","baseline":"middle","dy":5,"font":"Liberation Sans","fontSize":10.5,"color":"#000"},
  "encoding":{"x":{"field":"t","type":"quantitative","axis":null},"y":{"field":"y","type":"quantitative","axis":null},"text":{"field":"s","type":"nominal"}}},
 {"data":{"name":"tt"},"transform":[{"filter":"datum.f==23"}],"mark":{"type":"text","align":"left","baseline":"alphabetic","font":"Liberation Serif","fontWeight":"bold","fontSize":26,"color":"#000"},
  "encoding":{"x":{"field":"t","type":"quantitative","axis":null},"y":{"field":"y","type":"quantitative","axis":null},"text":{"field":"s","type":"nominal"}}}
]},
{"width":1018,"height":299,"resolve":{"axis":{"x":"independent","y":"independent"}},"layer":[
 {"data":{"name":"tr"},"transform":[{"filter":"datum.f==24"}],"mark":{"type":"line","color":"#0000ff","strokeWidth":1.5,"clip":true},
  "encoding":{"x":{"field":"t","type":"quantitative","scale":{"domain":[0,64.9],"nice":false,"zero":false},"axis":{"values":[0,10,20,30,40,50,60],"title":"min","titleX":1013,"titleY":14.5,"titleAlign":"center","titleBaseline":"alphabetic","tickSize":5,"labelPadding":0,"orient":"bottom"}},
   "y":{"field":"y","type":"quantitative","scale":{"domain":[-5.0,113.1],"nice":false,"zero":false},"axis":{"values":[0,20,40,60,80,100],"title":"mAU","titleAngle":0,"titleX":-3,"titleY":9.5,"titleAlign":"right","titleBaseline":"alphabetic","tickSize":4,"labelPadding":2,"orient":"left"}}}},
 {"data":{"name":"bs"},"transform":[{"filter":"datum.f==24"}],"mark":{"type":"line","color":"#ff00ff","strokeWidth":1.5},
  "encoding":{"x":{"field":"t","type":"quantitative","axis":{"values":[0,2,4,6,8,10,12,14,16,18,20,22,24,26,28,30,32,34,36,38,40,42,44,46,48,50,52,54,56,58,60,62,64],"labels":false,"domain":false,"tickSize":2.5,"title":null,"orient":"bottom"}},
   "y":{"field":"y","type":"quantitative","axis":{"values":[-5,0,5,10,15,20,25,30,35,40,45,50,55,60,65,70,75,80,85,90,95,100,105,110],"labels":false,"domain":false,"tickSize":2.5,"title":null,"orient":"left"}},
   "detail":{"field":"g","type":"nominal"},"order":{"field":"o","type":"quantitative"}}},
 {"data":{"name":"lb"},"transform":[{"filter":"datum.f==24"}],"mark":{"type":"text","angle":270,"align":"left","baseline":"middle","dy":5,"font":"Liberation Sans","fontSize":10.5,"color":"#000"},
  "encoding":{"x":{"field":"t","type":"quantitative","axis":null},"y":{"field":"y","type":"quantitative","axis":null},"text":{"field":"s","type":"nominal"}}},
 {"data":{"name":"tt"},"transform":[{"filter":"datum.f==24"}],"mark":{"type":"text","align":"left","baseline":"alphabetic","font":"Liberation Serif","fontWeight":"bold","fontSize":26,"color":"#000"},
  "encoding":{"x":{"field":"t","type":"quantitative","axis":null},"y":{"field":"y","type":"quantitative","axis":null},"text":{"field":"s","type":"nominal"}}}
]}
]
}
